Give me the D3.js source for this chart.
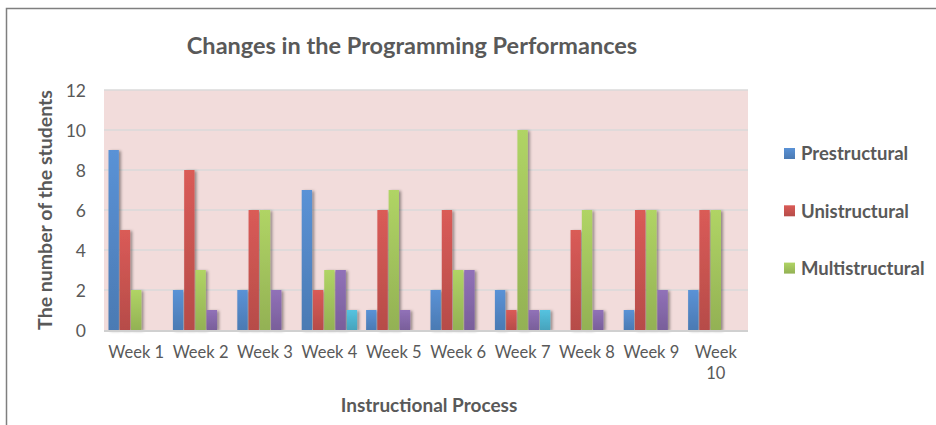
<!DOCTYPE html>
<html>
<head>
<meta charset="utf-8">
<script src="https://cdn.jsdelivr.net/npm/d3@7"></script>
<style>
  body { margin: 0; background: #fff; }
  text { font-family: Lato, "Open Sans", sans-serif; fill: #595959; }
</style>
</head>
<body>
<div id="container"></div>
<script>
// chart data
var weeks = ['Week 1', 'Week 2', 'Week 3', 'Week 4', 'Week 5', 'Week 6', 'Week 7', 'Week 8', 'Week 9', 'Week 10'];
var seriesNames = ['Prestructural', 'Unistructural', 'Multistructural', 'Relational', 'Extended Abstract'];
var legendNames = ['Prestructural', 'Unistructural', 'Multistructural'];
var prestructural   = [9, 2, 2, 7, 1, 2, 2, 0, 1, 2];
var unistructural   = [5, 8, 6, 2, 6, 6, 1, 5, 6, 6];
var multistructural = [2, 3, 6, 3, 7, 3, 10, 6, 6, 6];
var relational      = [0, 1, 2, 3, 1, 3, 1, 1, 2, 0];
var extAbstract     = [0, 0, 0, 1, 0, 0, 1, 0, 0, 0];
var yTicks = [0, 2, 4, 6, 8, 10, 12];
var colors = ['#4F81BD', '#C0504D', '#9BBB59', '#8064A2', '#4BACC6'];

var allSeries = [prestructural, unistructural, multistructural, relational, extAbstract];

var w = 936, h = 425;
var plot = {left: 104, right: 748, top: 90, bottom: 330};

var svg = d3.select('#container').append('svg')
    .attr('width', w)
    .attr('height', h);

// gradients + shadow
var defs = svg.append('defs');
colors.forEach(function(c, i) {
    var g = defs.append('linearGradient')
        .attr('id', 'grad' + i)
        .attr('x1', 0).attr('y1', 0).attr('x2', 0).attr('y2', 1);
    g.append('stop').attr('offset', '0%').attr('stop-color', d3.color(c).brighter(0.35));
    g.append('stop').attr('offset', '100%').attr('stop-color', d3.color(c).darker(0.15));
});
var f = defs.append('filter').attr('id', 'shadow')
    .attr('x', '-50%').attr('y', '-10%').attr('width', '200%').attr('height', '120%');
f.append('feDropShadow')
    .attr('dx', 2).attr('dy', 1).attr('stdDeviation', 1.6)
    .attr('flood-color', '#000').attr('flood-opacity', 0.4);

// outer frame
svg.append('rect')
    .attr('x', 6.5).attr('y', 8.5)
    .attr('width', w + 10).attr('height', h + 10)
    .attr('fill', 'none')
    .attr('stroke', '#7f7f7f')
    .attr('stroke-width', 1.5);

/* scales */
var xScale = d3.scaleBand()
    .domain(weeks)
    .range([plot.left, plot.right])
    .paddingInner(0.14)
    .paddingOuter(0.07);

var xInner = d3.scaleBand()
    .domain(d3.range(seriesNames.length))
    .range([0, xScale.bandwidth()])
    .paddingInner(0.08);

var yScale = d3.scaleLinear()
    .domain([0, 12])
    .range([plot.bottom, plot.top]);

// plot background
svg.append('rect')
    .attr('x', plot.left).attr('y', plot.top)
    .attr('width', plot.right - plot.left)
    .attr('height', plot.bottom - plot.top)
    .attr('fill', '#F2DCDB');

// gridlines
svg.append('g').classed('grid', true)
    .selectAll('line').data(yTicks.filter(function(d) { return d > 0; }))
    .enter().append('line')
        .attr('x1', plot.left).attr('x2', plot.right)
        .attr('y1', function(d) { return yScale(d); })
        .attr('y2', function(d) { return yScale(d); })
        .attr('stroke', '#DADADA')
        .attr('stroke-width', 1.5);

// y axis
var yAxis = d3.axisLeft(yScale).tickValues(yTicks).tickSize(0).tickPadding(0);
var yg = svg.append('g')
    .attr('transform', 'translate(86,0)')
    .call(yAxis);
yg.select('.domain').remove();
yg.selectAll('text')
    .attr('font-size', 17.5)
    .attr('dy', '0.35em')
    .style('font-family', 'Lato, sans-serif')
    .style('fill', '#595959');

// bars
var groups = svg.append('g').classed('bars', true)
    .selectAll('g').data(weeks)
    .enter().append('g')
        .attr('transform', function(d) { return 'translate(' + xScale(d) + ',0)'; });

groups.selectAll('rect')
    .data(function(d, i) {
        return allSeries.map(function(s, k) { return {k: k, v: s[i]}; });
    })
    .enter().append('rect')
        .filter(function(d) { return d.v > 0; })
        .attr('x', function(d) { return xInner(d.k); })
        .attr('y', function(d) { return yScale(d.v); })
        .attr('width', xInner.bandwidth())
        .attr('height', function(d) { return yScale(0) - yScale(d.v); })
        .attr('fill', function(d) { return 'url(#grad' + d.k + ')'; })
        .attr('filter', 'url(#shadow)');

// x axis line
svg.append('line')
    .attr('x1', plot.left).attr('x2', plot.right)
    .attr('y1', plot.bottom + 1).attr('y2', plot.bottom + 1)
    .attr('stroke', '#D0D0D0')
    .attr('stroke-width', 2);

// x labels (Week 10 wraps)
var xl = svg.append('g').classed('xlabels', true)
    .selectAll('text').data(weeks)
    .enter().append('text')
        .attr('x', function(d) { return xScale(d) + xScale.bandwidth() / 2; })
        .attr('y', 358)
        .attr('text-anchor', 'middle')
        .attr('font-size', 16.5);
xl.each(function(d, i) {
    var t = d3.select(this);
    if (i === weeks.length - 1) {
        var parts = d.split(' ');
        t.append('tspan').attr('x', t.attr('x')).text(parts[0]);
        t.append('tspan').attr('x', t.attr('x')).attr('dy', 21).text(parts[1]);
    } else {
        t.text(d);
    }
});

// titles
svg.append('text')
    .attr('x', 412).attr('y', 54)
    .attr('text-anchor', 'middle')
    .attr('font-size', 23.5).attr('font-weight', 'bold')
    .text('Changes in the Programming Performances');

svg.append('text')
    .attr('x', 429).attr('y', 412)
    .attr('text-anchor', 'middle')
    .attr('font-size', 19).attr('font-weight', 'bold')
    .text('Instructional Process');

svg.append('text')
    .attr('transform', 'translate(52,' + ((plot.top + plot.bottom) / 2) + ') rotate(-90)')
    .attr('text-anchor', 'middle')
    .attr('font-size', 19.5).attr('font-weight', 'bold')
    .text('The number of the students');

// legend
var legend = svg.append('g').classed('legend', true)
    .selectAll('g').data(legendNames)
    .enter().append('g')
        .attr('transform', function(d, i) { return 'translate(784,' + (148 + i * 57.3) + ')'; });
legend.append('rect')
    .attr('width', 11).attr('height', 11)
    .attr('fill', function(d, i) { return 'url(#grad' + i + ')'; });
legend.append('text')
    .attr('x', 17).attr('y', 6)
    .attr('dy', '0.35em')
    .attr('font-size', 18.5).attr('font-weight', 'bold')
    .text(function(d) { return d; });
</script>
</body>
</html>
